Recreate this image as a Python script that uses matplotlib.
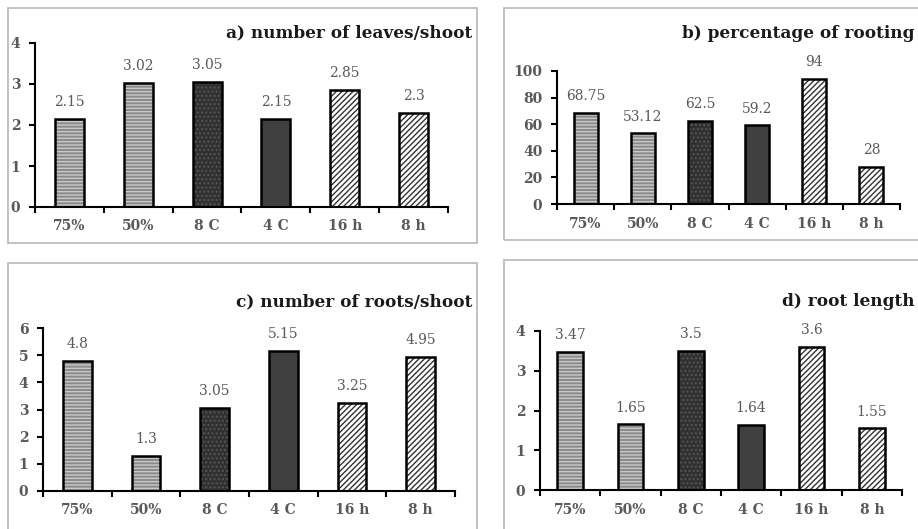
import matplotlib.pyplot as plt
from matplotlib.patches import Rectangle

categories = ["75%", "50%", "8 C", "4 C", "16 h", "8 h"]

leaves = [2.15, 3.02, 3.05, 2.15, 2.85, 2.3]
rooting = [68.75, 53.12, 62.5, 59.2, 94, 28]
roots = [4.8, 1.3, 3.05, 5.15, 3.25, 4.95]
root_length = [3.47, 1.65, 3.5, 1.64, 3.6, 1.55]

leaves_labels = ["2.15", "3.02", "3.05", "2.15", "2.85", "2.3"]
rooting_labels = ["68.75", "53.12", "62.5", "59.2", "94", "28"]
roots_labels = ["4.8", "1.3", "3.05", "5.15", "3.25", "4.95"]
length_labels = ["3.47", "1.65", "3.5", "1.64", "3.6", "1.55"]

# (face colour, hatch, hatch colour) for each category
styles = [
    ("#8a8a8a", "-----", "#c8c8c8"),
    ("#8a8a8a", "-----", "#c8c8c8"),
    ("#303030", "....", "#555555"),
    ("#404040", None, None),
    ("#ffffff", "//////", "#333333"),
    ("#ffffff", "//////", "#333333"),
]

SERIF = ["DejaVu Serif"]
GREY = "#595959"

W, H = 918, 529
fig = plt.figure(figsize=(W / 100, H / 100), dpi=100)


def px_rect(x0, y0, x1, y1):
    return [x0 / W, 1 - y1 / H, (x1 - x0) / W, (y1 - y0) / H]


# panel frames
for x0, y0, x1, y1 in [(8, 8, 477, 243), (504, 8, 930, 240),
                       (8, 263, 477, 540), (504, 260, 930, 540)]:
    fig.add_artist(Rectangle((x0 / W, 1 - y1 / H), (x1 - x0) / W, (y1 - y0) / H,
                             transform=fig.transFigure, fill=False,
                             edgecolor="#bdbdbd", linewidth=1.3))


def panel(rect, values, labels, ymax, ystep, title, title_xy):
    ax = fig.add_axes(px_rect(*rect))
    x = range(len(categories))
    for i, v in enumerate(values):
        face, hatch, hcol = styles[i]
        ax.bar(i, v, width=0.42, color=face, hatch=hatch, edgecolor=hcol or face,
               linewidth=0, zorder=2)
        ax.bar(i, v, width=0.42, fill=False, edgecolor="black", linewidth=1.8, zorder=3)
        ax.annotate(labels[i], (i, v), xytext=(0, 7), textcoords="offset points",
                    ha="center", va="bottom", fontsize=10, color=GREY,
                    family=SERIF)
    ax.set_xlim(-0.5, len(categories) - 0.5)
    ax.set_ylim(0, ymax)
    ax.set_yticks([k * ystep for k in range(int(ymax / ystep) + 1)])
    ax.set_xticks(list(x))
    ax.set_xticklabels(categories)
    ax.set_xticks([k - 0.5 for k in range(len(categories) + 1)], minor=True)
    ax.tick_params(axis="x", which="major", length=0, pad=9)
    ax.tick_params(axis="x", which="minor", length=4, width=1.5, direction="out")
    ax.tick_params(axis="y", length=4, width=1.5, direction="out", pad=6.5)
    for lab in ax.get_xticklabels() + ax.get_yticklabels():
        lab.set_family(SERIF)
        lab.set_fontweight("bold")
        lab.set_color(GREY)
        lab.set_fontsize(10)
    for s in ["top", "right"]:
        ax.spines[s].set_visible(False)
    for s in ["left", "bottom"]:
        ax.spines[s].set_linewidth(1.5)
    fig.text(title_xy[0] / W, 1 - title_xy[1] / H, title, ha="right", va="center",
             fontsize=12.2, fontweight="bold", family=SERIF, color="#1a1a1a")
    return ax


panel((35, 43, 448, 207), leaves, leaves_labels, 4, 1,
      "a) number of leaves/shoot", (472, 33))
panel((557, 71, 900, 204), rooting, rooting_labels, 100, 20,
      "b) percentage of rooting", (915, 33))
panel((43, 328, 455, 491), roots, roots_labels, 6, 1,
      "c) number of roots/shoot", (472, 302))
panel((540, 331, 902, 490), root_length, length_labels, 4, 1,
      "d) root length", (915, 302))

fig.savefig("out.png", dpi=100)
